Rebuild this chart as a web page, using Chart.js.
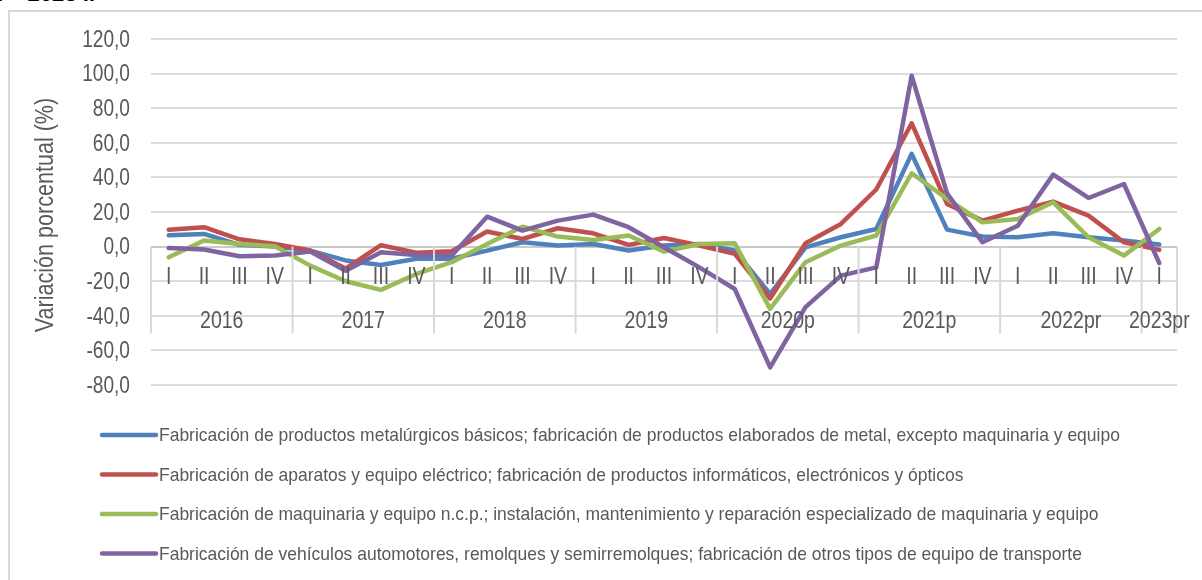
<!DOCTYPE html>
<html>
<head>
<meta charset="utf-8">
<script src="https://cdn.jsdelivr.net/npm/chart.js@4.4.1/dist/chart.umd.min.js"></script>
<style>
  html, body { margin: 0; padding: 0; background: #fff; overflow: hidden; }
  #wrap { position: relative; width: 1202px; height: 580px; }
  #frame { position: absolute; left: 8px; top: 10px; width: 1300px; height: 700px; border: 2px solid #d9d9d9; box-sizing: border-box; }
  #title { position: absolute; left: -2px; top: -19px; font: italic bold 22px "Liberation Sans", Arial, sans-serif; color: #000; white-space: nowrap; }
  canvas { position: absolute; left: 0; top: 0; }
</style>
</head>
<body>
<div id="wrap">
  <div id="frame"></div>
  <div id="title">I – 2023 I.</div>
  <canvas id="chart" width="1202" height="580"></canvas>
</div>
<script>
const FONT = '"Liberation Sans", Arial, sans-serif';
const TEXT = '#595959';

const quarters = ['I', 'II', 'III', 'IV', 'I', 'II', 'III', 'IV', 'I', 'II', 'III', 'IV', 'I', 'II', 'III', 'IV',
    'I', 'II', 'III', 'IV', 'I', 'II', 'III', 'IV', 'I', 'II', 'III', 'IV', 'I'];
const years = ['2016', '2017', '2018', '2019', '2020p', '2021p', '2022pr', '2023pr'];
const yearQuarters = [4, 4, 4, 4, 4, 4, 4, 1];
const yTicks = [-80, -60, -40, -20, 0, 20, 40, 60, 80, 100, 120];
const yTitle = 'Variación porcentual (%)';

const metalurgicos = [6.5, 7.3, 1.0, 0.0, -2.3, -8.0, -10.6, -7.0, -7.0, -2.3, 2.5, 0.6, 1.5, -2.3, 0.6, 1.5,
    -2.3, -27.4, -0.4, 5.4, 10.2, 53.6, 9.8, 5.8, 5.4, 7.7, 5.4, 3.5, 1.2];
const electricos = [9.8, 11.2, 4.2, 1.5, -2.3, -12.7, 0.8, -3.5, -2.7, 8.7, 4.4, 10.6, 7.7, 1.0, 5.0, 0.6,
    -4.2, -30.0, 1.9, 13.1, 33.0, 71.3, 24.7, 15.0, 20.8, 26.0, 17.9, 2.5, -1.9];
const maquinaria = [-6.2, 3.5, 1.5, 0.2, -11.0, -20.0, -25.0, -15.8, -9.0, 1.5, 11.5, 5.8, 3.8, 6.4, -2.9, 1.5,
    1.9, -36.0, -9.0, 0.6, 6.4, 42.4, 27.6, 14.0, 16.0, 25.6, 5.4, -5.2, 10.2];
const vehiculos = [-0.8, -1.7, -5.6, -5.2, -2.9, -13.9, -3.3, -4.8, -5.2, 17.3, 9.2, 15.0, 18.5, 11.2, -0.4, -12.0,
    -24.5, -69.8, -35.0, -16.8, -12.0, 98.8, 30.8, 2.5, 12.1, 41.6, 28.1, 36.2, -9.6];

const seriesNames = [
    'Fabricación de productos metalúrgicos básicos; fabricación de productos elaborados de metal, excepto maquinaria y equipo',
    'Fabricación de aparatos y equipo eléctrico; fabricación de productos informáticos, electrónicos y ópticos',
    'Fabricación de maquinaria y equipo n.c.p.; instalación, mantenimiento y reparación especializado de maquinaria y equipo',
    'Fabricación de vehículos automotores, remolques y semirremolques; fabricación de otros tipos de equipo de transporte',
];
const seriesColors = ['#4f81bd', '#c0504d', '#9bbb59', '#8064a2'];
const seriesData = [metalurgicos, electricos, maquinaria, vehiculos];

// the original uses a narrow face; squeeze a regular one horizontally
function narrowText(ctx, text, x, y, size, sx, align, rot) {
    ctx.save();
    ctx.translate(x, y);
    if (rot) ctx.rotate(rot);
    ctx.scale(sx, 1);
    ctx.font = size + 'px ' + FONT;
    ctx.textAlign = align;
    ctx.textBaseline = 'middle';
    ctx.fillStyle = TEXT;
    ctx.fillText(text, 0, 0);
    ctx.restore();
}

// value axis labels + title
const valueAxis = {
    id: 'valueAxis',
    afterDraw(chart) {
        const ctx = chart.ctx;
        const y = chart.scales.y;
        yTicks.forEach(v => {
            narrowText(ctx, v.toFixed(1).replace('.', ','), 130, y.getPixelForValue(v) + 1, 24.5, 0.78, 'right');
        });
        const mid = (y.getPixelForValue(-80) + y.getPixelForValue(120)) / 2;
        narrowText(ctx, yTitle, 46, mid + 3, 25.5, 0.845, 'center', -Math.PI / 2);
    },
};

// multi-level category axis drawn at the zero line
const categoryAxis = {
    id: 'categoryAxis',
    afterDatasetsDraw(chart) {
        const ctx = chart.ctx;
        const x = chart.scales.x;
        const y = chart.scales.y;
        const y0 = y.getPixelForValue(0);
        const step = x.getPixelForValue(1) - x.getPixelForValue(0);
        quarters.forEach((q, i) => {
            narrowText(ctx, q, x.getPixelForValue(i), y0 + 31, 23.5, 0.83, 'center');
        });
        ctx.save();
        ctx.strokeStyle = '#d9d9d9';
        ctx.lineWidth = 2;
        let start = 0;
        years.forEach((yr, k) => {
            const left = x.getPixelForValue(start) - step / 2;
            const right = x.getPixelForValue(start + yearQuarters[k] - 1) + step / 2;
            ctx.beginPath();
            ctx.moveTo(left, y0);
            ctx.lineTo(left, y0 + 87);
            ctx.stroke();
            if (k === years.length - 1) {
                ctx.beginPath();
                ctx.moveTo(right, y0);
                ctx.lineTo(right, y0 + 87);
                ctx.stroke();
            }
            narrowText(ctx, yr, (left + right) / 2, y0 + 75, 23.5, 0.83, 'center');
            start += yearQuarters[k];
        });
        ctx.restore();
    },
};

const leftLegend = {
    id: 'leftLegend',
    afterDraw(chart) {
        const ctx = chart.ctx;
        chart.data.datasets.forEach((ds, i) => {
            const yy = 435 + i * 39.5;
            ctx.save();
            ctx.strokeStyle = ds.borderColor;
            ctx.lineWidth = 4.5;
            ctx.lineCap = 'round';
            ctx.beginPath();
            ctx.moveTo(102, yy);
            ctx.lineTo(156, yy);
            ctx.stroke();
            ctx.restore();
            narrowText(ctx, ds.label, 159, yy + 1, 18.6, 0.94, 'left');
        });
    },
};

new Chart(document.getElementById('chart'), {
    type: 'line',
    data: {
        labels: quarters,
        datasets: seriesData.map((d, i) => ({
            label: seriesNames[i],
            data: d,
            borderColor: seriesColors[i],
            backgroundColor: seriesColors[i],
            borderWidth: 4.5,
            borderJoinStyle: 'round',
            borderCapStyle: 'round',
            pointRadius: 0,
            tension: 0,
            order: 4 - i,
        })),
    },
    options: {
        responsive: false,
        animation: false,
        layout: { padding: { left: 0, right: 25, top: 39, bottom: 195 } },
        plugins: {
            legend: { display: false },
            tooltip: { enabled: false },
        },
        scales: {
            x: {
                display: false,
                offset: true,
                grid: { display: false },
            },
            y: {
                min: -80,
                max: 120,
                afterBuildTicks: scale => { scale.ticks = yTicks.map(v => ({ value: v })); },
                afterFit: scale => { scale.width = 151; },
                border: { display: false },
                grid: {
                    drawTicks: false,
                    lineWidth: 2,
                    color: c => (c.tick && c.tick.value === 0 ? '#c9c9c9' : '#dcdcdc'),
                },
                ticks: { display: false },
            },
        },
    },
    plugins: [categoryAxis, valueAxis, leftLegend],
});
</script>
</body>
</html>
